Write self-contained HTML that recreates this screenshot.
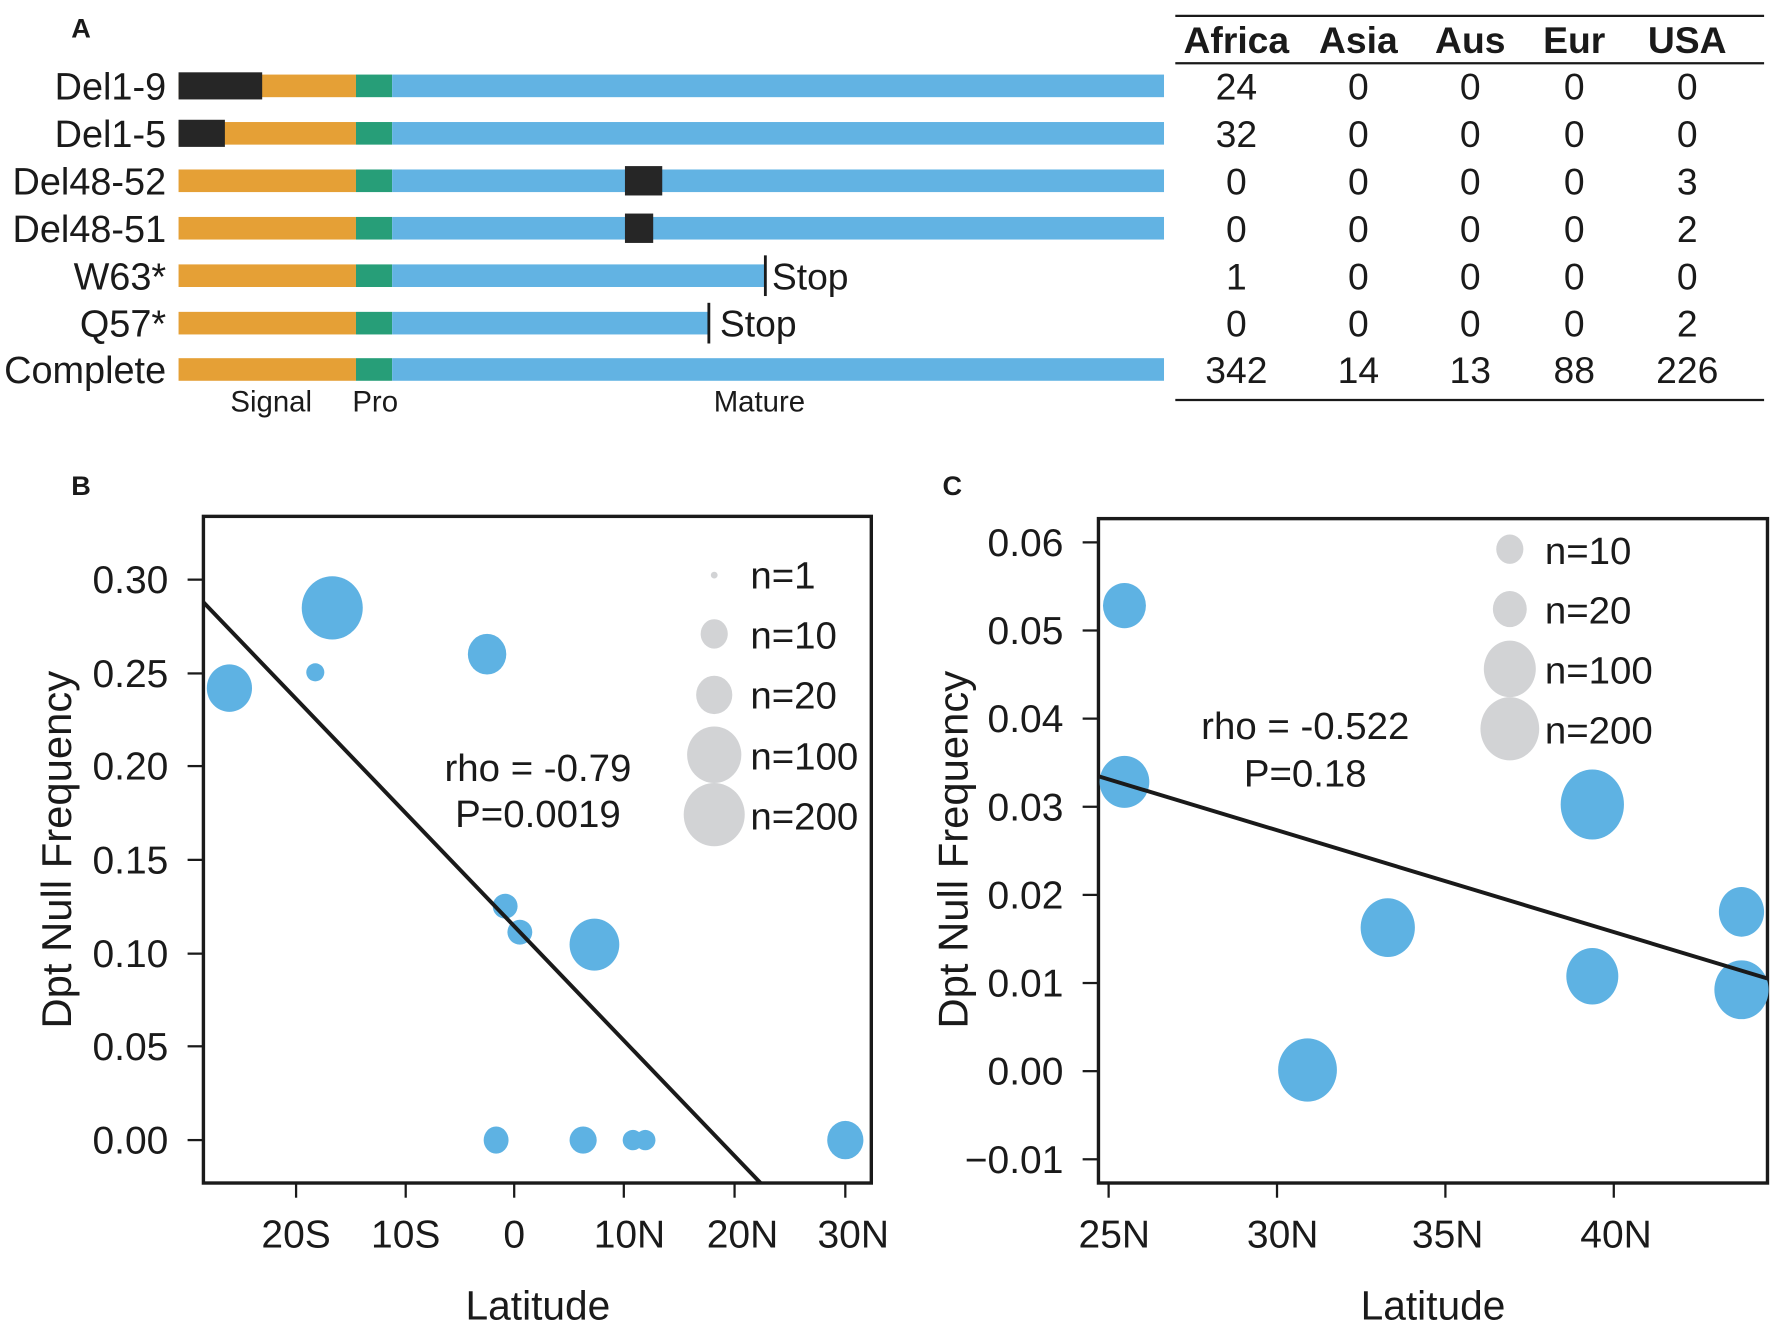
<!DOCTYPE html>
<html><head><meta charset="utf-8"><style>
html,body{margin:0;padding:0;background:#fff;}
svg{display:block;}
text{font-family:"Liberation Sans",sans-serif;fill:#1a1a1a;}
</style></head><body>
<svg width="1772" height="1322" viewBox="0 0 1568 1170" preserveAspectRatio="none" xmlns="http://www.w3.org/2000/svg">
<rect width="1568" height="1170" fill="#fff"/>
<!-- Panel A -->
<text x="63" y="33" font-size="24" font-weight="bold">A</text>
<g font-size="33.5" text-anchor="end">
<text x="147" y="88">Del1-9</text>
<text x="147" y="130">Del1-5</text>
<text x="147" y="172">Del48-52</text>
<text x="147" y="214">Del48-51</text>
<text x="147" y="256">W63*</text>
<text x="147" y="298">Q57*</text>
<text x="147" y="339">Complete</text>
</g>
<g>
<g transform="translate(0,66)"><rect x="158" y="0" width="157" height="20" fill="#E5A036"/><rect x="315" y="0" width="32" height="20" fill="#279E78"/><rect x="347" y="0" width="683" height="20" fill="#62B3E3"/><rect x="158" y="-2" width="74" height="24" fill="#262626"/></g>
<g transform="translate(0,108)"><rect x="158" y="0" width="157" height="20" fill="#E5A036"/><rect x="315" y="0" width="32" height="20" fill="#279E78"/><rect x="347" y="0" width="683" height="20" fill="#62B3E3"/><rect x="158" y="-2" width="41" height="24" fill="#262626"/></g>
<g transform="translate(0,150)"><rect x="158" y="0" width="157" height="20" fill="#E5A036"/><rect x="315" y="0" width="32" height="20" fill="#279E78"/><rect x="347" y="0" width="683" height="20" fill="#62B3E3"/><rect x="553" y="-3" width="33" height="26" fill="#262626"/></g>
<g transform="translate(0,192)"><rect x="158" y="0" width="157" height="20" fill="#E5A036"/><rect x="315" y="0" width="32" height="20" fill="#279E78"/><rect x="347" y="0" width="683" height="20" fill="#62B3E3"/><rect x="553" y="-3" width="25" height="26" fill="#262626"/></g>
<g transform="translate(0,234)"><rect x="158" y="0" width="157" height="20" fill="#E5A036"/><rect x="315" y="0" width="32" height="20" fill="#279E78"/><rect x="347" y="0" width="330" height="20" fill="#62B3E3"/><rect x="676" y="-8" width="2.5" height="36" fill="#1a1a1a"/></g>
<g transform="translate(0,276)"><rect x="158" y="0" width="157" height="20" fill="#E5A036"/><rect x="315" y="0" width="32" height="20" fill="#279E78"/><rect x="347" y="0" width="280" height="20" fill="#62B3E3"/><rect x="626" y="-8" width="2.5" height="36" fill="#1a1a1a"/></g>
<g transform="translate(0,317)"><rect x="158" y="0" width="157" height="20" fill="#E5A036"/><rect x="315" y="0" width="32" height="20" fill="#279E78"/><rect x="347" y="0" width="683" height="20" fill="#62B3E3"/></g>
</g>
<text x="683" y="256" font-size="33">Stop</text>
<text x="637" y="298" font-size="33">Stop</text>
<g font-size="26" text-anchor="middle">
<text x="240" y="364">Signal</text><text x="332" y="364">Pro</text><text x="672" y="364">Mature</text>
</g>
<!-- table -->
<line x1="1040" y1="14" x2="1561" y2="14" stroke="#1a1a1a" stroke-width="2"/>
<line x1="1040" y1="56" x2="1561" y2="56" stroke="#1a1a1a" stroke-width="2"/>
<line x1="1040" y1="354" x2="1561" y2="354" stroke="#1a1a1a" stroke-width="2"/>
<g font-size="33" font-weight="bold" text-anchor="middle">
<text x="1094" y="47">Africa</text><text x="1202" y="47">Asia</text><text x="1301" y="47">Aus</text><text x="1393" y="47">Eur</text><text x="1493" y="47">USA</text>
</g>
<g font-size="33" text-anchor="middle">
<text x="1094" y="88">24</text><text x="1202" y="88">0</text><text x="1301" y="88">0</text><text x="1393" y="88">0</text><text x="1493" y="88">0</text>
<text x="1094" y="130">32</text><text x="1202" y="130">0</text><text x="1301" y="130">0</text><text x="1393" y="130">0</text><text x="1493" y="130">0</text>
<text x="1094" y="172">0</text><text x="1202" y="172">0</text><text x="1301" y="172">0</text><text x="1393" y="172">0</text><text x="1493" y="172">3</text>
<text x="1094" y="214">0</text><text x="1202" y="214">0</text><text x="1301" y="214">0</text><text x="1393" y="214">0</text><text x="1493" y="214">2</text>
<text x="1094" y="256">1</text><text x="1202" y="256">0</text><text x="1301" y="256">0</text><text x="1393" y="256">0</text><text x="1493" y="256">0</text>
<text x="1094" y="298">0</text><text x="1202" y="298">0</text><text x="1301" y="298">0</text><text x="1393" y="298">0</text><text x="1493" y="298">2</text>
<text x="1094" y="339">342</text><text x="1202" y="339">14</text><text x="1301" y="339">13</text><text x="1393" y="339">88</text><text x="1493" y="339">226</text>
</g>

<!-- Panel B -->
<text x="63" y="438" font-size="24" font-weight="bold">B</text>
<rect x="180" y="457" width="591" height="590" fill="none" stroke="#1a1a1a" stroke-width="3"/>
<g stroke="#1a1a1a" stroke-width="2">
<line x1="166" y1="1009" x2="180" y2="1009"/><line x1="166" y1="926" x2="180" y2="926"/><line x1="166" y1="844" x2="180" y2="844"/><line x1="166" y1="761" x2="180" y2="761"/><line x1="166" y1="678" x2="180" y2="678"/><line x1="166" y1="596" x2="180" y2="596"/><line x1="166" y1="513" x2="180" y2="513"/>
<line x1="262" y1="1047" x2="262" y2="1060"/><line x1="359" y1="1047" x2="359" y2="1060"/><line x1="455" y1="1047" x2="455" y2="1060"/><line x1="552" y1="1047" x2="552" y2="1060"/><line x1="650" y1="1047" x2="650" y2="1060"/><line x1="748" y1="1047" x2="748" y2="1060"/>
</g>
<g font-size="34.5" text-anchor="end">
<text x="149" y="1021">0.00</text><text x="149" y="938">0.05</text><text x="149" y="856">0.10</text><text x="149" y="773">0.15</text><text x="149" y="690">0.20</text><text x="149" y="608">0.25</text><text x="149" y="525">0.30</text>
</g>
<g font-size="34.5" text-anchor="middle">
<text x="262" y="1104">20S</text><text x="359" y="1104">10S</text><text x="455" y="1104">0</text><text x="557" y="1104">10N</text><text x="657" y="1104">20N</text><text x="755" y="1104">30N</text>
</g>
<text x="476" y="1168" font-size="36" text-anchor="middle">Latitude</text>
<text transform="translate(63,752) rotate(-90)" font-size="37" text-anchor="middle">Dpt Null Frequency</text>
<g fill="#5EB2E3">
<ellipse cx="203" cy="609" rx="20" ry="21"/><ellipse cx="294" cy="538" rx="27" ry="28"/><ellipse cx="279" cy="595" rx="8" ry="8"/><ellipse cx="431" cy="579" rx="17" ry="18"/><ellipse cx="447" cy="802" rx="11" ry="11"/><ellipse cx="460" cy="825" rx="11" ry="11"/><ellipse cx="526" cy="836" rx="22" ry="23"/><ellipse cx="439" cy="1009" rx="11" ry="12"/><ellipse cx="516" cy="1009" rx="12" ry="12"/><ellipse cx="560" cy="1009" rx="9" ry="9"/><ellipse cx="571" cy="1009" rx="9" ry="9"/><ellipse cx="748" cy="1009" rx="16" ry="17"/>
</g>
<line x1="180" y1="533" x2="673" y2="1047" stroke="#1a1a1a" stroke-width="3.5"/>
<g fill="#D2D3D5">
<circle cx="632" cy="509" r="3"/><ellipse cx="632" cy="561" rx="12" ry="13"/><ellipse cx="632" cy="615" rx="16" ry="17"/><ellipse cx="632" cy="668" rx="24" ry="25"/><ellipse cx="632" cy="721" rx="27" ry="28"/>
</g>
<g font-size="34">
<text x="664" y="521">n=1</text><text x="664" y="574">n=10</text><text x="664" y="627">n=20</text><text x="664" y="681">n=100</text><text x="664" y="734">n=200</text>
</g>
<g font-size="34" text-anchor="middle"><text x="476" y="691">rho = -0.79</text><text x="476" y="732">P=0.0019</text></g>

<!-- Panel C -->
<text x="834" y="438" font-size="24" font-weight="bold">C</text>
<rect x="972" y="459" width="592" height="588" fill="none" stroke="#1a1a1a" stroke-width="3"/>
<g stroke="#1a1a1a" stroke-width="2">
<line x1="958" y1="480" x2="972" y2="480"/><line x1="958" y1="558" x2="972" y2="558"/><line x1="958" y1="636" x2="972" y2="636"/><line x1="958" y1="714" x2="972" y2="714"/><line x1="958" y1="792" x2="972" y2="792"/><line x1="958" y1="870" x2="972" y2="870"/><line x1="958" y1="948" x2="972" y2="948"/><line x1="958" y1="1026" x2="972" y2="1026"/>
<line x1="981" y1="1047" x2="981" y2="1060"/><line x1="1130" y1="1047" x2="1130" y2="1060"/><line x1="1279" y1="1047" x2="1279" y2="1060"/><line x1="1428" y1="1047" x2="1428" y2="1060"/>
</g>
<g font-size="34.5" text-anchor="end">
<text x="941" y="492">0.06</text><text x="941" y="570">0.05</text><text x="941" y="648">0.04</text><text x="941" y="726">0.03</text><text x="941" y="804">0.02</text><text x="941" y="882">0.01</text><text x="941" y="960">0.00</text><text x="941" y="1038">−0.01</text>
</g>
<g font-size="34.5" text-anchor="middle">
<text x="986" y="1104">25N</text><text x="1135" y="1104">30N</text><text x="1281" y="1104">35N</text><text x="1430" y="1104">40N</text>
</g>
<text x="1268" y="1168" font-size="36" text-anchor="middle">Latitude</text>
<text transform="translate(856,752) rotate(-90)" font-size="37" text-anchor="middle">Dpt Null Frequency</text>
<g fill="#5EB2E3">
<ellipse cx="995" cy="536" rx="19" ry="20"/><ellipse cx="995" cy="692" rx="22" ry="23"/><ellipse cx="1409" cy="712" rx="28" ry="31"/><ellipse cx="1228" cy="821" rx="24" ry="26"/><ellipse cx="1541" cy="807" rx="20" ry="22"/><ellipse cx="1409" cy="864" rx="23" ry="25"/><ellipse cx="1541" cy="876" rx="24" ry="26"/><ellipse cx="1157" cy="947" rx="26" ry="28"/>
</g>
<line x1="972" y1="687" x2="1564" y2="866" stroke="#1a1a1a" stroke-width="3.5"/>
<g fill="#D2D3D5">
<ellipse cx="1336" cy="486" rx="12" ry="13"/><ellipse cx="1336" cy="539" rx="15" ry="16"/><ellipse cx="1336" cy="592" rx="23" ry="25"/><ellipse cx="1336" cy="645" rx="26" ry="28"/>
</g>
<g font-size="34">
<text x="1367" y="499">n=10</text><text x="1367" y="552">n=20</text><text x="1367" y="605">n=100</text><text x="1367" y="658">n=200</text>
</g>
<g font-size="34" text-anchor="middle"><text x="1155" y="654">rho = -0.522</text><text x="1155" y="696">P=0.18</text></g>
</svg>
</body></html>
